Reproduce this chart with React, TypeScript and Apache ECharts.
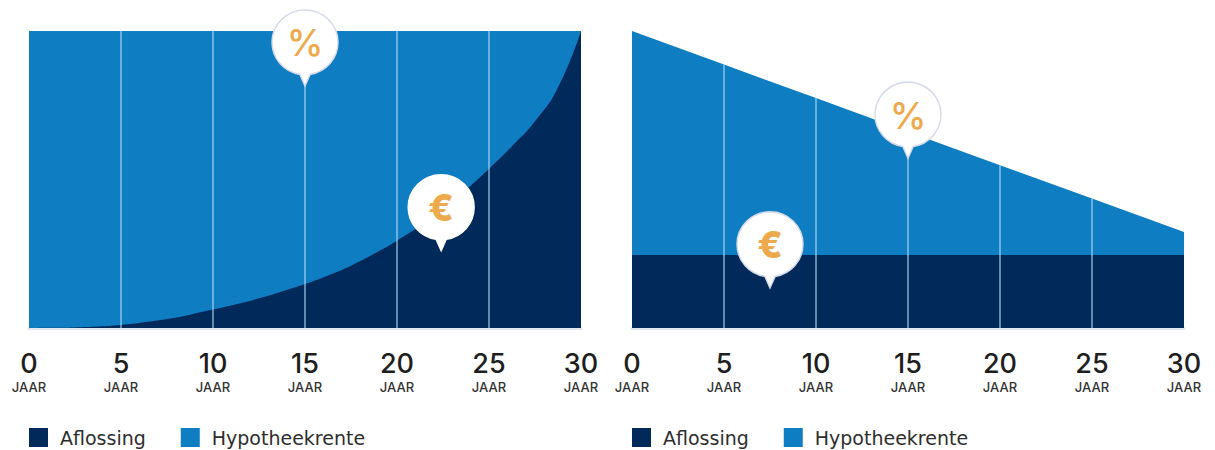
import React, { useEffect, useRef } from "react";
import * as echarts from "echarts";

const annuityYears = [0, 1.25, 2.5, 3.75, 5, 6.25, 7.5, 8.75, 10, 11.25, 12.5, 13.75, 15, 16.25, 17.5, 18.75, 20, 21.25, 22.5, 23.75, 25, 26.25, 27.5, 28.75, 30];
const annuityRepayment = [0, 0.05, 0.2, 0.5, 1, 1.9, 3, 4.5, 6.2, 8, 10, 12.3, 14.8, 17.7, 21, 25, 29.4, 34.4, 40, 46.5, 53.6, 61.2, 69.6, 81, 100];
const annuityInterest = [100, 99.95, 99.8, 99.5, 99, 98.1, 97, 95.5, 93.8, 92, 90, 87.7, 85.2, 82.3, 79, 75, 70.6, 65.6, 60, 53.5, 46.4, 38.8, 30.4, 19, 0];
const linearYears = [0, 5, 10, 15, 20, 25, 30];
const linearRepayment = [24.6, 24.6, 24.6, 24.6, 24.6, 24.6, 24.6];
const linearInterest = [75.4, 64.1, 52.8, 41.5, 30.2, 19, 7.7];
const gridYears = [5, 10, 15, 20, 25];
const gridTopsLeft = [100, 100, 100, 100, 100];
const gridTopsRight = [88.7, 77.4, 66.1, 54.8, 43.6];
const repaymentName = "Aflossing";
const interestName = "Hypotheekrente";
const yearUnit = "JAAR";
const percentPinLeft = [15, 81.5];
const euroPinLeft = [22.4, 26];
const percentPinRight = [15, 57.2];
const euroPinRight = [7.5, 13.5];

const NAVY = "#012A5B";
const BLUE = "#0F7DC2";
const ORANGE = "#EDAA4C";
const FONT = "Inter, 'Noto Sans', sans-serif";
const LEGEND_FONT = "'DejaVu Sans', sans-serif";
const PIN =
  "path://M33 1C15.3 1 1 15.3 1 33C1 49 12.5 62 28 64.6L33 76L38 64.6C53.5 62 65 49 65 33C65 15.3 50.7 1 33 1Z";

const pin = (coord: number[], text: string, border: string, weight: number) => ({
  coord,
  symbol: PIN,
  symbolSize: [66, 76],
  symbolOffset: [0, "-50%"],
  itemStyle: { color: "#fff", borderColor: border, borderWidth: 1.5 },
  label: {
    show: true,
    formatter: text,
    color: ORANGE,
    fontFamily: FONT,
    fontSize: 37,
    fontWeight: weight,
    position: "inside",
    offset: [0, -5],
  },
});

const gridLines = (tops: number[]) =>
  gridYears.map((x, i) => [{ coord: [x, 0] }, { coord: [x, tops[i]] }]);

// The blue area is drawn from the baseline up to repayment + interest, the navy one covers its lower part.
const chartSeries = (
  index: number,
  xs: number[],
  repayment: number[],
  interest: number[],
  smooth: boolean,
  tops: number[],
  pins: any[],
) => [
  {
    name: interestName,
    type: "line",
    xAxisIndex: index,
    yAxisIndex: index,
    z: 2,
    symbol: "none",
    lineStyle: { width: 0 },
    itemStyle: { color: BLUE },
    areaStyle: { color: BLUE, opacity: 1 },
    data: xs.map((x, i) => [x, repayment[i] + interest[i]]),
  },
  {
    name: repaymentName,
    type: "line",
    xAxisIndex: index,
    yAxisIndex: index,
    z: 3,
    smooth,
    symbol: "none",
    lineStyle: { width: 0 },
    itemStyle: { color: NAVY },
    areaStyle: { color: NAVY, opacity: 1 },
    data: xs.map((x, i) => [x, repayment[i]]),
    markLine: {
      silent: true,
      symbol: "none",
      label: { show: false },
      lineStyle: { color: "rgba(190,222,248,0.7)", width: 1.5, type: "solid" },
      data: gridLines(tops),
    },
    markPoint: { silent: true, z: 20, data: pins },
  },
];

const xAxis = (gridIndex: number) => ({
  type: "value",
  gridIndex,
  min: 0,
  max: 30,
  interval: 5,
  splitLine: { show: false },
  axisTick: { show: false },
  axisLine: { show: true, onZero: false, lineStyle: { color: "#E1E6F1", width: 3 } },
  axisLabel: {
    margin: 20,
    hideOverlap: false,
    showMinLabel: true,
    showMaxLabel: true,
    formatter: (v: number) => `{n|${v}}\n{j|${yearUnit}}`,
    rich: {
      n: { fontFamily: FONT, fontSize: 27, fontWeight: 500, color: "#1E1E1E", lineHeight: 30, align: "center" },
      j: { fontFamily: FONT, fontSize: 13, fontWeight: 500, color: "#333", lineHeight: 17, align: "center" },
    },
  },
});

const yAxis = (gridIndex: number) => ({
  type: "value",
  gridIndex,
  min: 0,
  max: 100,
  show: false,
  splitLine: { show: false },
});

const legend = (left: number) => ({
  left,
  top: 428,
  icon: "rect",
  itemWidth: 19,
  itemHeight: 19,
  itemGap: 35,
  padding: 0,
  selectedMode: false,
  data: [repaymentName, interestName],
  textStyle: { fontFamily: LEGEND_FONT, fontSize: 19, color: "#2E2E2E", padding: [0, 0, 0, 7] },
});

export default function App() {
  const ref = useRef<HTMLDivElement>(null);
  useEffect(() => {
    const chart = echarts.init(ref.current!, undefined, { renderer: "svg" });
    chart.setOption({
      animation: false,
      backgroundColor: "#fff",
      grid: [
        { left: 29, top: 31, width: 552, height: 297 },
        { left: 632, top: 31, width: 552, height: 297 },
      ],
      xAxis: [xAxis(0), xAxis(1)],
      yAxis: [yAxis(0), yAxis(1)],
      legend: [legend(29), legend(632)],
      series: [
        ...chartSeries(0, annuityYears, annuityRepayment, annuityInterest, true, gridTopsLeft, [
          pin(percentPinLeft, "%", "#D6DAEA", 500),
          pin(euroPinLeft, "€", "#FFFFFF", 800),
        ]),
        ...chartSeries(1, linearYears, linearRepayment, linearInterest, false, gridTopsRight, [
          pin(percentPinRight, "%", "#D6DAEA", 500),
          pin(euroPinRight, "€", "#D6DAEA", 800),
        ]),
      ],
    });
    return () => chart.dispose();
  }, []);
  return <div ref={ref} style={{ position: "absolute", left: 0, top: 0, width: 1215, height: 450 }} />;
}
